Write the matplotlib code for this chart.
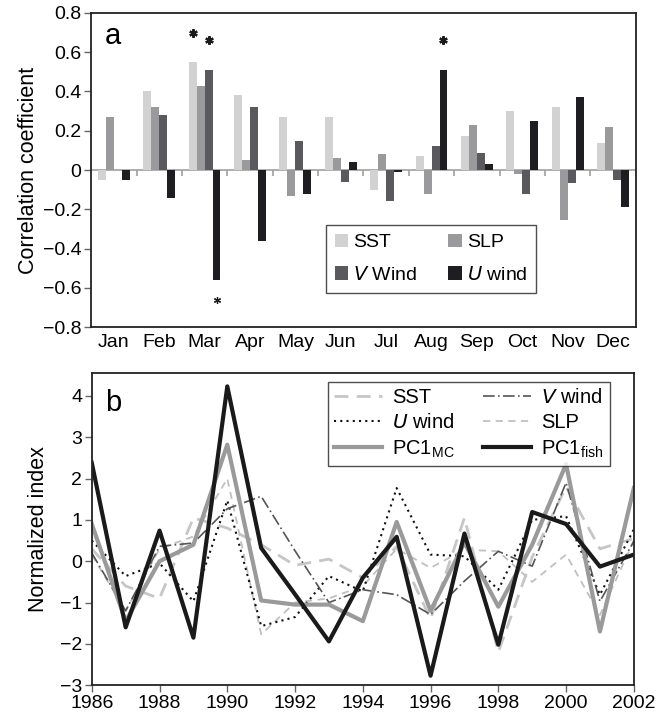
import numpy as np
import matplotlib.pyplot as plt
from matplotlib.ticker import FuncFormatter

plt.rcParams['font.family'] = ['Liberation Sans', 'DejaVu Sans']

# panel a: monthly correlation coefficients
months = ["Jan", "Feb", "Mar", "Apr", "May", "Jun",
          "Jul", "Aug", "Sep", "Oct", "Nov", "Dec"]
sst = [-0.05, 0.40, 0.55, 0.38, 0.27, 0.27, -0.10, 0.07, 0.175, 0.30, 0.32, 0.14]
slp = [0.27, 0.32, 0.43, 0.05, -0.13, 0.06, 0.08, -0.12, 0.23, -0.02, -0.255, 0.22]
vwind = [0.0, 0.28, 0.51, 0.32, 0.15, -0.06, -0.16, 0.12, 0.085, -0.12, -0.065, -0.05]
uwind = [-0.05, -0.14, -0.56, -0.36, -0.12, 0.04, -0.01, 0.51, 0.03, 0.25, 0.37, -0.19]
# significant bars: (month index, series index), 0 = SST, 2 = V wind, 3 = U wind
signif = [(2, 0), (2, 2), (2, 3), (7, 3)]

# panel b: normalized indices
years = np.arange(1986, 2003)
sst_idx = [0.3, -0.6, -0.9, 1.05, 0.8, 0.4, -0.1, 0.05, -0.4, 0.35, -1.4, 1.05, -2.2, 0.1, 1.8, 0.3, 0.55]
slp_idx = [0.15, -1.2, 0.3, 0.6, 2.0, -1.77, -1.0, -0.9, -0.6, 0.3, -0.16, 0.28, 0.24, -0.5, 0.16, -1.3, 0.5]
u_idx = [0.5, -0.36, -0.05, -0.97, 1.47, -1.57, -1.35, -0.36, -0.73, 1.77, 0.16, 0.12, -0.69, 1.0, 1.09, -0.81, 0.77]
v_idx = [0.2, -1.2, 0.36, 0.44, 1.27, 1.57, 0.25, -1.0, -0.69, -0.81, -1.29, -0.48, 0.24, -0.12, 1.9, -0.97, 0.48]
mc_idx = [0.9, -1.45, 0.0, 0.4, 2.82, -0.95, -1.05, -1.05, -1.45, 0.95, -1.2, 0.45, -1.1, 0.4, 2.35, -1.7, 1.77]
fish_idx = [2.38, -1.6, 0.74, -1.85, 4.23, 0.32, -0.8, -1.94, -0.4, 0.59, -2.77, 0.67, -2.02, 1.19, 0.9, -0.13, 0.16]

colors = ["#d2d2d2", "#9a9a9c", "#5a5a5e", "#1e1e22"]

fig = plt.figure(figsize=(6.7, 7.19), dpi=100)
ax1 = fig.add_axes([0.136, 0.545, 0.813, 0.437])
ax2 = fig.add_axes([0.137, 0.047, 0.809, 0.434])

# ---- panel a ----
x = np.arange(len(months))
w = 0.175
series = [sst, slp, vwind, uwind]
labels = ["SST", "SLP", "$\\it{V}$ Wind", "$\\it{U}$ wind"]
bars = []
for i, (vals, c, lab) in enumerate(zip(series, colors, labels)):
    b = ax1.bar(x + (i - 1.5) * w, vals, w, color=c, label=lab, zorder=3)
    bars.append(b)

ax1.axhline(0, color="#a0a0a0", lw=1.2, zorder=2)
bounds = np.arange(len(months)) + 0.5
ax1.vlines(bounds, -0.03, 0, color="#a0a0a0", lw=1.2, zorder=2)

for m, s in signif:
    v = series[s][m]
    yy = v + 0.15 if v > 0 else v - 0.10
    bold = v > 0
    ax1.plot(m + (s - 1.5) * w, yy, marker=(6, 2, 0), color="#1a1a1a",
             ms=6 if bold else 5, mew=1.6 if bold else 0.9, zorder=4)

ax1.set_xlim(-0.5, 11.5)
ax1.set_ylim(-0.8, 0.8)
ax1.set_xticks(x)
ax1.set_xticklabels(months, fontsize=14)
ax1.set_yticks(np.arange(-0.8, 0.81, 0.2))
ax1.yaxis.set_major_formatter(FuncFormatter(
    lambda v, p: "0" if abs(v) < 1e-9 else ("%.1f" % v).replace("-", "\u2212")))
ax1.tick_params(axis="x", length=0, pad=5)
ax1.tick_params(axis="y", labelsize=14, length=5, width=1, color="#666666", pad=2)
ax1.set_ylabel("Correlation coefficient", fontsize=15.5, labelpad=3)
ax1.text(0.025, 0.97, "a", transform=ax1.transAxes, fontsize=21, va="top")
h = [bars[0], bars[2], bars[1], bars[3]]
l = [labels[0], labels[2], labels[1], labels[3]]
leg = ax1.legend(h, l, ncol=2, loc="upper left", bbox_to_anchor=(0.431, 0.325),
                 borderaxespad=0, fontsize=14, frameon=True, fancybox=False,
                 edgecolor="#222222", handlelength=0.7, handleheight=0.7,
                 handletextpad=0.25, columnspacing=1.6, borderpad=0.45,
                 labelspacing=0.75)
leg.get_frame().set_linewidth(1.0)

# ---- panel b ----
l_sst, = ax2.plot(years, sst_idx, color="#c6c6c6", lw=2, dashes=(5, 3), label="SST")
l_slp, = ax2.plot(years, slp_idx, color="#c0c0c0", lw=1.3, dashes=(4, 3), label="SLP")
l_u, = ax2.plot(years, u_idx, color="#111111", lw=1.5, dashes=(1, 2), label="$\\it{U}$ wind")
l_v, = ax2.plot(years, v_idx, color="#555555", lw=1.2, dashes=(7, 2, 1, 2), label="$\\it{V}$ wind")
l_mc, = ax2.plot(years, mc_idx, color="#9a9a9a", lw=3, label="PC1$_{\\mathregular{MC}}$")
l_fish, = ax2.plot(years, fish_idx, color="#1a1a1a", lw=3, label="PC1$_{\\mathregular{fish}}$")

ax2.set_xlim(1986, 2002)
ax2.set_ylim(-3, 4.55)
ax2.set_xticks(np.arange(1986, 2003, 2))
ax2.set_yticks(np.arange(-3, 5, 1))
ax2.yaxis.set_major_formatter(FuncFormatter(lambda v, p: ("%d" % v).replace("-", "\u2212")))
ax2.tick_params(labelsize=14, length=5, width=1, color="#666666", pad=2)
ax2.set_ylabel("Normalized index", fontsize=15.5, labelpad=8)
ax2.text(0.025, 0.95, "b", transform=ax2.transAxes, fontsize=21, va="top")
leg2 = ax2.legend([l_sst, l_u, l_mc, l_v, l_slp, l_fish],
                  ["SST", "$\\it{U}$ wind", "PC1$_{\\mathregular{MC}}$",
                   "$\\it{V}$ wind", "SLP", "PC1$_{\\mathregular{fish}}$"],
                  ncol=2, loc="upper right", bbox_to_anchor=(0.956, 0.971),
                  borderaxespad=0, fontsize=14.5, frameon=True, fancybox=False,
                  edgecolor="#222222", handlelength=2.4, handletextpad=0.5,
                  columnspacing=1.4, borderpad=0.3, labelspacing=0.3)
leg2.get_frame().set_linewidth(1.0)

for ax in (ax1, ax2):
    for sp in ax.spines.values():
        sp.set_linewidth(1.3)
        sp.set_color("#222222")

fig.savefig("out.png", dpi=100)
